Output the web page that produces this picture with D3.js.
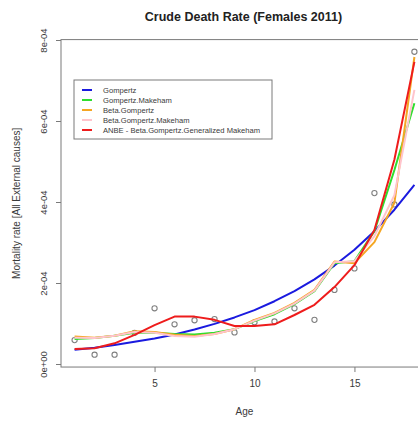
<!DOCTYPE html>
<html>
<head>
<meta charset="utf-8">
<script src="https://cdn.jsdelivr.net/npm/d3@7"></script>
<style>
  html, body { margin: 0; padding: 0; background: #fff; }
  svg { display: block; font-family: "Liberation Sans", Arial, sans-serif; }
</style>
</head>
<body>
<svg id="chart" width="418" height="423"></svg>
<script>
// Observed crude death rates by age
const ages = [1, 2, 3, 4, 5, 6, 7, 8, 9, 10, 11, 12, 13, 14, 15, 16, 17, 18];
const observed = [5.9e-5, 2.3e-5, 2.3e-5, 7.7e-5, 1.375e-4, 9.8e-5, 1.08e-4, 1.11e-4, 7.8e-5,
  1.03e-4, 1.05e-4, 1.375e-4, 1.09e-4, 1.83e-4, 2.36e-4, 4.22e-4, 3.94e-4, 7.71e-4];

// Fitted curves, one value per age
const gompertz = [3.5e-5, 4.0e-5, 4.7e-5, 5.5e-5, 6.3e-5, 7.3e-5, 8.5e-5, 9.9e-5, 1.15e-4,
  1.33e-4, 1.55e-4, 1.80e-4, 2.09e-4, 2.43e-4, 2.82e-4, 3.28e-4, 3.81e-4, 4.42e-4];
const gompertzMakeham = [6.2e-5, 6.4e-5, 7.0e-5, 7.7e-5, 7.7e-5, 7.4e-5, 7.3e-5, 7.7e-5, 8.6e-5,
  1.06e-4, 1.23e-4, 1.48e-4, 1.80e-4, 2.49e-4, 2.54e-4, 3.28e-4, 4.79e-4, 6.44e-4];
const betaGompertz = [6.8e-5, 6.5e-5, 7.0e-5, 8.1e-5, 7.9e-5, 7.2e-5, 6.9e-5, 7.4e-5, 8.6e-5,
  1.09e-4, 1.26e-4, 1.51e-4, 1.83e-4, 2.53e-4, 2.49e-4, 3.01e-4, 3.98e-4, 7.58e-4];
const betaGompertzMakeham = [6.5e-5, 6.4e-5, 7.0e-5, 7.9e-5, 7.7e-5, 6.9e-5, 6.7e-5, 7.4e-5, 8.6e-5,
  1.07e-4, 1.25e-4, 1.49e-4, 1.81e-4, 2.51e-4, 2.54e-4, 3.16e-4, 4.17e-4, 6.77e-4];
const anbe = [3.7e-5, 3.9e-5, 5.1e-5, 7.2e-5, 9.6e-5, 1.17e-4, 1.17e-4, 1.09e-4, 9.4e-5,
  9.4e-5, 9.8e-5, 1.21e-4, 1.46e-4, 1.90e-4, 2.44e-4, 3.31e-4, 5.05e-4, 7.46e-4];

const seriesNames = ["Gompertz", "Gompertz.Makeham", "Beta.Gompertz", "Beta.Gompertz.Makeham",
  "ANBE - Beta.Gompertz.Generalized Makeham"];
const seriesColors = ["#1a1adf", "#2ede2e", "#f5a623", "#ffc4cc", "#ee1c1c"];
const seriesValues = [gompertz, gompertzMakeham, betaGompertz, betaGompertzMakeham, anbe];

const xTicks = [5, 10, 15];
const yTicks = [0, 2e-4, 4e-4, 6e-4, 8e-4];
const yTickLabels = ["0e+00", "2e-04", "4e-04", "6e-04", "8e-04"];

const svg = d3.select("#chart");
const axisColor = "#7a7a7a";
const textColor = "#3a3a3a";

// Scales: the data range is padded by 4% on each side
const x = d3.scaleLinear().domain([0.32, 18.68]).range([61, 428]);
const y = d3.scaleLinear().domain([0, 8e-4]).range([364, 40]);
const yLo = -7.5e-6, yHi = 8.01e-4;

// Plot frame
svg.append("rect")
  .attr("x", x(0.32)).attr("y", y(yHi))
  .attr("width", x(18.68) - x(0.32)).attr("height", y(yLo) - y(yHi))
  .attr("fill", "none").attr("stroke", axisColor).attr("stroke-width", 1);

// Bottom axis
const xAxis = d3.axisBottom(x).tickValues(xTicks).tickSize(5).tickPadding(8).tickFormat(d3.format("d"));
const gx = svg.append("g").attr("transform", `translate(0,${y(yLo)})`).call(xAxis);
gx.select(".domain").remove();
gx.selectAll("line").attr("stroke", axisColor);
gx.selectAll("text").attr("fill", textColor).attr("font-size", 10);

// Left axis with rotated labels
const yAxis = d3.axisLeft(y).tickValues(yTicks).tickSize(5).tickFormat((d, i) => yTickLabels[i]);
const gy = svg.append("g").attr("transform", `translate(${x(0.32)},0)`).call(yAxis);
gy.select(".domain").remove();
gy.selectAll("line").attr("stroke", axisColor);
gy.selectAll("text")
  .attr("fill", textColor).attr("font-size", 9.5)
  .attr("x", null).attr("dy", null)
  .attr("text-anchor", "middle")
  .attr("transform", "translate(-14,0) rotate(-90)");

// Axis titles
svg.append("text")
  .attr("x", (x(0.32) + x(18.68)) / 2).attr("y", 415)
  .attr("text-anchor", "middle").attr("font-size", 10).attr("fill", textColor)
  .text("Age");
svg.append("text")
  .attr("transform", `translate(20,${(y(yLo) + y(yHi)) / 2}) rotate(-90)`)
  .attr("text-anchor", "middle").attr("font-size", 10).attr("fill", textColor)
  .text("Mortality rate [All External causes]");

// Title
svg.append("text")
  .attr("x", (x(0.32) + x(18.68)) / 2 - 1).attr("y", 21)
  .attr("text-anchor", "middle").attr("font-size", 12.5).attr("font-weight", "bold")
  .attr("fill", "#222")
  .text("Crude Death Rate (Females 2011)");

// Observed points
svg.append("g").selectAll("circle")
  .data(ages.map((a, i) => [a, observed[i]]))
  .join("circle")
  .attr("cx", d => x(d[0])).attr("cy", d => y(d[1]))
  .attr("r", 2.6).attr("fill", "none").attr("stroke", "#808080").attr("stroke-width", 1.1);

// Fitted lines
const line = d3.line().x(d => x(d[0])).y(d => y(d[1]));
svg.append("g").selectAll("path")
  .data(seriesValues.map(vals => ages.map((a, i) => [a, vals[i]])))
  .join("path")
  .attr("d", line)
  .attr("fill", "none")
  .attr("stroke", (d, i) => seriesColors[i])
  .attr("stroke-width", 2)
  .attr("stroke-linejoin", "round");

// Legend
const lg = svg.append("g").attr("transform", "translate(74,80)");
lg.append("rect").attr("width", 198).attr("height", 59)
  .attr("fill", "#fff").attr("stroke", axisColor).attr("stroke-width", 1);
seriesNames.forEach((name, i) => {
  const yy = 10 + i * 10;
  lg.append("line").attr("x1", 8).attr("x2", 18).attr("y1", yy).attr("y2", yy)
    .attr("stroke", seriesColors[i]).attr("stroke-width", 2);
  lg.append("text").attr("x", 29).attr("y", yy).attr("dy", "0.35em")
    .attr("font-size", 7.6).attr("fill", textColor).text(name);
});
</script>
</body>
</html>
